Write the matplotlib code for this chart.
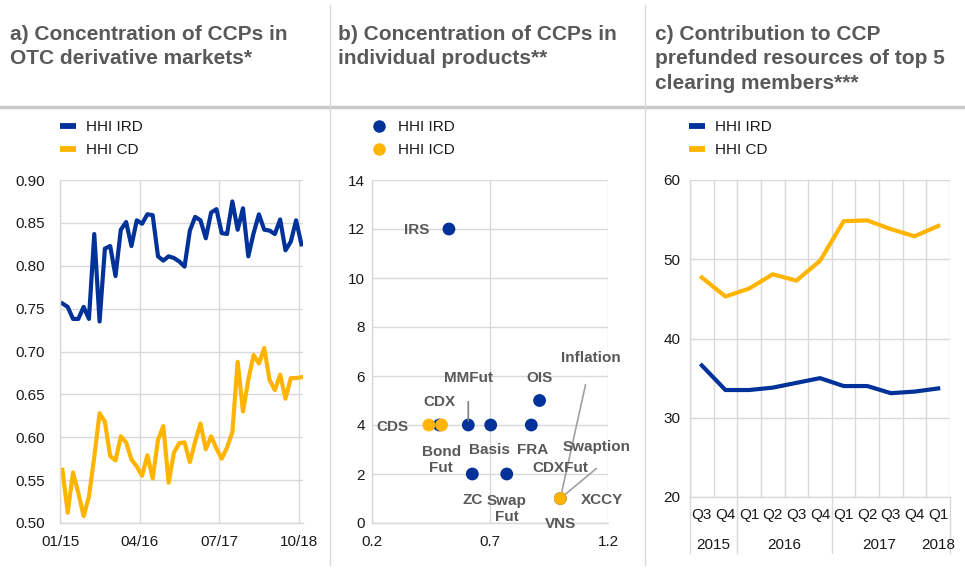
import numpy as np
import matplotlib
matplotlib.use("Agg")
import matplotlib.pyplot as plt
from matplotlib.lines import Line2D
from matplotlib.ticker import FormatStrFormatter

plt.rcParams['font.family'] = ['Liberation Sans', 'DejaVu Sans']

BLUE = '#003299'
ORANGE = '#ffb400'
GRID = '#d9d9d9'
TXT = '#595959'
DARK = '#1a1a1a'

# a) monthly HHI, 01/2015 - 10/2018
hhi_ird_a = [0.756, 0.752, 0.738, 0.738, 0.752, 0.738, 0.837, 0.735, 0.820, 0.823,
             0.788, 0.842, 0.851, 0.823, 0.853, 0.849, 0.860, 0.859, 0.811, 0.806,
             0.811, 0.809, 0.805, 0.799, 0.841, 0.857, 0.853, 0.832, 0.862, 0.866,
             0.838, 0.837, 0.875, 0.842, 0.867, 0.811, 0.838, 0.860, 0.842, 0.841,
             0.837, 0.854, 0.818, 0.828, 0.853, 0.825]
hhi_cd_a = [0.562, 0.512, 0.559, 0.535, 0.508, 0.531, 0.577, 0.628, 0.618, 0.578,
            0.573, 0.601, 0.594, 0.574, 0.566, 0.555, 0.579, 0.552, 0.597, 0.613,
            0.547, 0.582, 0.593, 0.594, 0.571, 0.595, 0.616, 0.586, 0.601, 0.587,
            0.575, 0.588, 0.606, 0.688, 0.630, 0.667, 0.696, 0.686, 0.704, 0.667,
            0.655, 0.673, 0.645, 0.669, 0.669, 0.670]
a_ticklabels = ['01/15', '04/16', '07/17', '10/18']

# b) per-product concentration (x: HHI, y: number of CCPs)
ird_products = ['IRS', 'Bond Fut', 'MMFut', 'Basis', 'FRA', 'OIS', 'ZC', 'Swap Fut', 'XCCY']
ird_x = [0.526, 0.485, 0.608, 0.703, 0.875, 0.910, 0.625, 0.771, 0.998]
ird_y = [12, 4, 4, 4, 4, 5, 2, 2, 1]
cd_products = ['CDS', 'CDX', 'CDXFut']
cd_x = [0.441, 0.495, 0.998]
cd_y = [4, 4, 1]

# c) quarterly share of top 5 clearing members
quarters = ['Q3', 'Q4', 'Q1', 'Q2', 'Q3', 'Q4', 'Q1', 'Q2', 'Q3', 'Q4', 'Q1']
years = ['2015', '2016', '2017', '2018']
hhi_ird_c = [36.6, 33.5, 33.5, 33.8, 34.4, 35.0, 34.0, 34.0, 33.1, 33.3, 33.7]
hhi_cd_c = [47.7, 45.3, 46.3, 48.1, 47.3, 49.8, 54.8, 54.9, 53.8, 52.9, 54.2]

W, H = 965, 574
fig = plt.figure(figsize=(W / 100, H / 100), dpi=100)


def px_axes(x0, y0, x1, y1):
    return fig.add_axes([x0 / W, 1 - y1 / H, (x1 - x0) / W, (y1 - y0) / H])


def fx(x):
    return x / W


def fy(y):
    return 1 - y / H


def style(ax, ypad, xpad):
    for s in ['top', 'right']:
        ax.spines[s].set_visible(False)
    for s in ['left', 'bottom']:
        ax.spines[s].set_color(GRID)
        ax.spines[s].set_linewidth(1)
    ax.tick_params(length=0, labelsize=11, colors=DARK)
    ax.tick_params(axis='y', pad=ypad)
    ax.tick_params(axis='x', pad=xpad)
    ax.grid(True, color=GRID, linewidth=1)
    ax.set_axisbelow(True)


def legend_rows(x, labels, colors, kind):
    # hand-drawn legend: line swatch or round marker, then the label
    for i, (lab, col) in enumerate(zip(labels, colors)):
        yb = 131 + 22.5 * i
        yc = yb - 5
        if kind == 'line':
            fig.add_artist(Line2D([fx(x), fx(x + 16)], [fy(yc), fy(yc)], color=col,
                                  lw=4.2, solid_capstyle='butt'))
            tx = x + 26
        else:
            fig.add_artist(Line2D([fx(x)], [fy(yc)], marker='o', ms=9, color=col,
                                  markeredgewidth=0))
            tx = x + 19
        fig.text(fx(tx), fy(yb), lab, fontsize=11, color=DARK, ha='left', va='baseline')


# frame lines and titles
fig.add_artist(Line2D([0, 1], [fy(107), fy(107)], color='#c8c8c8', lw=2.5))
for xs in [330, 645]:
    fig.add_artist(Line2D([fx(xs), fx(xs)], [fy(5), fy(565)], color=GRID, lw=1))

titles = [(10, ['a) Concentration of CCPs in', 'OTC derivative markets*']),
          (338, ['b) Concentration of CCPs in', 'individual products**']),
          (655, ['c) Contribution to CCP', 'prefunded resources of top 5',
                 'clearing members***'])]
for tx, lines in titles:
    for i, line in enumerate(lines):
        fig.text(fx(tx), fy(40 + 24.5 * i), line, fontsize=15, fontweight='bold',
                 color=TXT, ha='left', va='baseline')

# ---- panel a
ax1 = px_axes(60, 180, 303, 523)
style(ax1, ypad=11, xpad=8.5)
t = np.arange(len(hhi_ird_a))
ax1.plot(t, hhi_ird_a, color=BLUE, lw=3, solid_joinstyle='round')
ax1.plot(t, hhi_cd_a, color=ORANGE, lw=3, solid_joinstyle='round')
ax1.set_xlim(-0.35, 45.3)
ax1.set_ylim(0.50, 0.90)
ax1.set_xticks(np.array([0, 15, 30, 45]) - 0.45)
ax1.set_xticklabels(a_ticklabels)
ax1.set_yticks(np.arange(0.50, 0.901, 0.05))
ax1.yaxis.set_major_formatter(FormatStrFormatter('%.2f'))
legend_rows(60, ['HHI IRD', 'HHI CD'], [BLUE, ORANGE], 'line')

# ---- panel b
ax2 = px_axes(372, 180, 608, 523)
style(ax2, ypad=5, xpad=8.5)
ax2.scatter(ird_x, ird_y, s=85, color=BLUE, zorder=3, edgecolors='none')
ax2.scatter(cd_x, cd_y, s=85, color=ORANGE, zorder=4, edgecolors='none')
ax2.set_xlim(0.2, 1.2)
ax2.set_ylim(0, 14)
ax2.set_xticks([0.2, 0.7, 1.2])
ax2.set_xticklabels(['0.2', '0.7', '1.2'])
ax2.set_yticks(range(0, 15, 2))
legend_rows(379, ['HHI IRD', 'HHI ICD'], [BLUE, ORANGE], 'marker')

lab_kw = dict(fontsize=11, fontweight='bold', color=TXT, ha='center', va='center',
              textcoords='offset pixels')
lead = dict(arrowstyle='-', color='#a0a0a0', lw=1.2)
ax2.annotate('IRS', (ird_x[0], ird_y[0]), xytext=(-32, -1), **lab_kw)
ax2.annotate('CDS', (cd_x[0], cd_y[0]), xytext=(-36, -2), **lab_kw)
ax2.annotate('CDX', (cd_x[1], cd_y[1]), xytext=(-2, 23), **lab_kw)
ax2.annotate('Bond\nFut', (ird_x[1], ird_y[1]), xytext=(2, -35), linespacing=1.25, **lab_kw)
ax2.annotate('MMFut', (ird_x[2], ird_y[2]), xytext=(0, 47),
             arrowprops=dict(lead, color='#808080', shrinkA=10, shrinkB=3), **lab_kw)
ax2.annotate('Basis', (ird_x[3], ird_y[3]), xytext=(-1, -25), **lab_kw)
ax2.annotate('FRA', (ird_x[4], ird_y[4]), xytext=(1, -25), **lab_kw)
ax2.annotate('OIS', (ird_x[5], ird_y[5]), xytext=(0, 23), **lab_kw)
ax2.annotate('ZC', (ird_x[6], ird_y[6]), xytext=(0, -26), **lab_kw)
ax2.annotate('Swap\nFut', (ird_x[7], ird_y[7]), xytext=(0, -35), linespacing=1.25, **lab_kw)
ax2.annotate('XCCY', (ird_x[8], ird_y[8]), xytext=(42, -2), **lab_kw)
ax2.annotate('VNS', (ird_x[8], ird_y[8]), xytext=(0, -26), **lab_kw)
ax2.annotate('Inflation', (ird_x[8], ird_y[8]), xytext=(31, 140),
             arrowprops=dict(lead, shrinkA=12, shrinkB=0), **lab_kw)
ax2.annotate('Swaption', (ird_x[8], ird_y[8]), xytext=(36, 51), **lab_kw)
ax2.annotate('CDXFut', (cd_x[2], cd_y[2]), xytext=(0, 30), **lab_kw)
ax2.annotate('', (cd_x[2], cd_y[2]), xytext=(36, 30), textcoords='offset pixels',
             arrowprops=dict(lead, shrinkA=0, shrinkB=0))

# ---- panel c
ax3 = px_axes(690, 180, 950, 497)
style(ax3, ypad=7, xpad=8)
q = np.arange(len(quarters))
ax3.plot(q, hhi_ird_c, color=BLUE, lw=3, solid_joinstyle='round')
ax3.plot(q, hhi_cd_c, color=ORANGE, lw=3, solid_joinstyle='round')
ax3.set_xlim(-0.5, 10.5)
ax3.set_ylim(20, 60)
ax3.set_yticks(range(20, 61, 10))
ax3.set_xticks(q)
ax3.set_xticklabels(quarters)
ax3.xaxis.grid(False)
for b in np.arange(-0.5, 10.6, 1):
    ax3.axvline(b, color=GRID, lw=1, zorder=0)
legend_rows(689, ['HHI IRD', 'HHI CD'], [BLUE, ORANGE], 'line')

# year groups below the quarter labels
for b in [-0.5, 1.5, 5.5, 10.5]:
    ax3.plot([b, b], [20, 20 - 56 / 317 * 40], color=GRID, lw=1, clip_on=False)
for yr, xc in zip(years, [0.5, 3.5, 7.5, 10.0]):
    ax3.text(xc, 20 - 48 / 317 * 40, yr, fontsize=11, color=DARK, ha='center', va='center')

fig.savefig('out.png', dpi=100)
